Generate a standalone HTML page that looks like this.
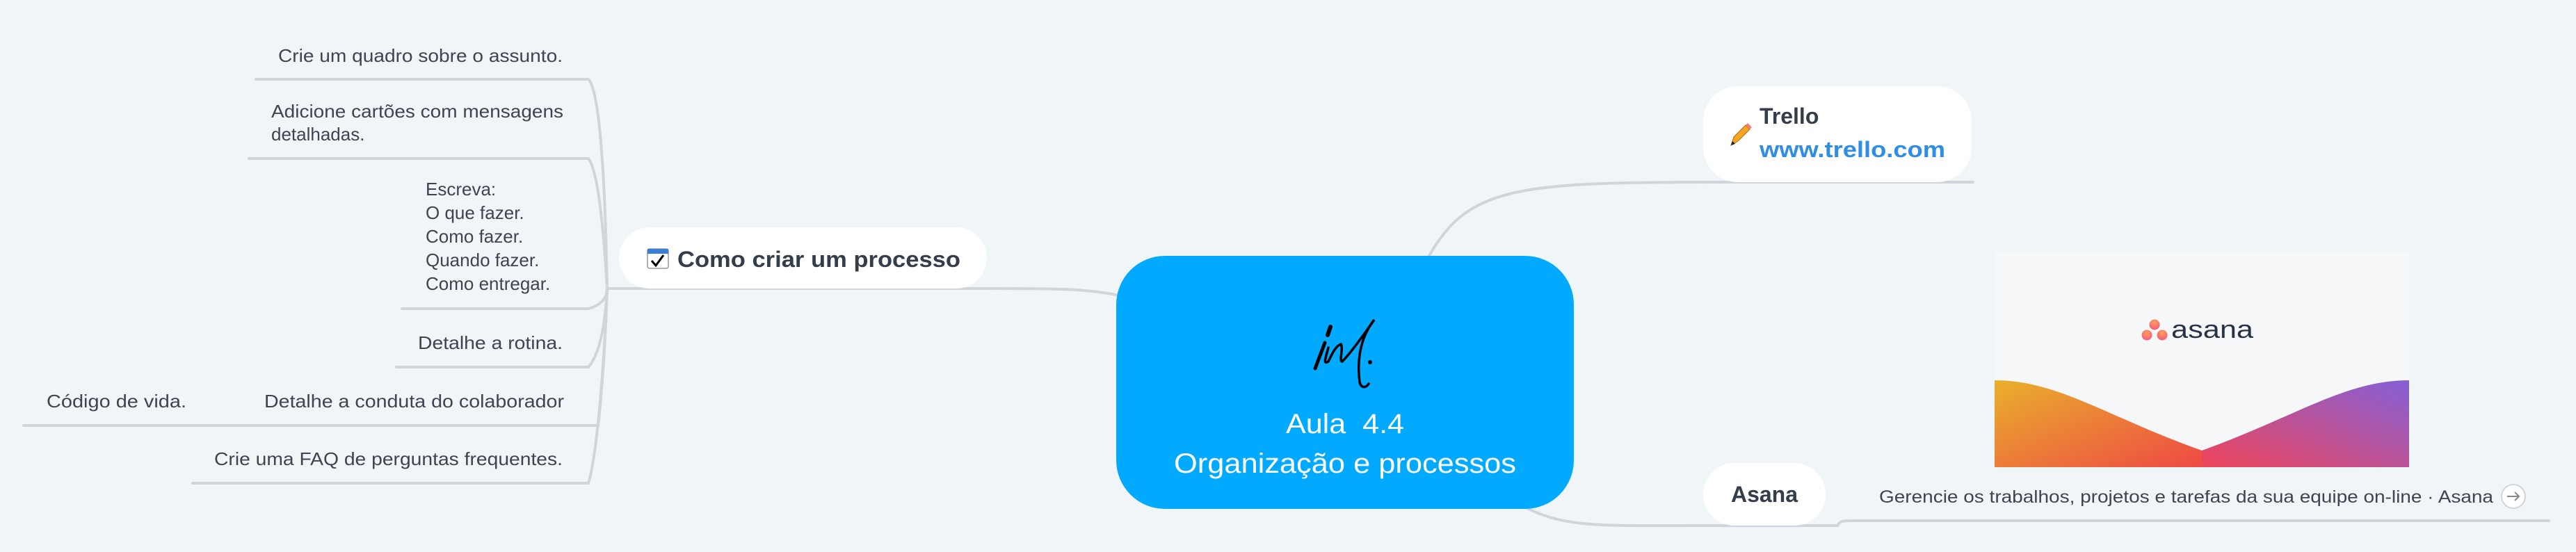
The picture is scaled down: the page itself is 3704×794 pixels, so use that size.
<!DOCTYPE html>
<html><head><meta charset="utf-8"><style>
html,body{margin:0;padding:0;background:#f0f5f8;}
svg{display:block;}
text{font-family:"Liberation Sans",sans-serif;}
</style></head><body>
<svg width="3704" height="794" viewBox="0 0 3704 794" xmlns="http://www.w3.org/2000/svg">
<defs>
<linearGradient id="gl" x1="0" y1="0" x2="1" y2="1"><stop offset="0" stop-color="#e9b02c"/><stop offset="1" stop-color="#ee4a44"/></linearGradient>
<linearGradient id="gr" x1="0" y1="1" x2="1" y2="0"><stop offset="0" stop-color="#f0455a"/><stop offset="1" stop-color="#8460d6"/></linearGradient>
<radialGradient id="dot" cx="0.5" cy="0.3" r="0.7"><stop offset="0" stop-color="#ffa05a"/><stop offset="1" stop-color="#f45a7a"/></radialGradient>
</defs>
<rect width="3704" height="794" fill="#f0f5f8"/>
<g fill="none" stroke="#cfd5da" stroke-width="4" stroke-linecap="round">
<path d="M368 114 H846 C862 130 870 250 873 415"/>
<path d="M358 228 H846 C860 245 868 330 873 415"/>
<path d="M578 444 H846 C862 440 873 430 873 415"/>
<path d="M570 528 H846 C862 510 870 470 873 415"/>
<path d="M34 612 H860 C866 560 871 480 873 415"/>
<path d="M277 695 H846 C860 650 870 500 873 415"/>
<path d="M873 415 H1420 C1520 415 1560 415 1610 425"/>
<path d="M2055 368 C2110 270 2180 262 2460 262 H2837"/>
<path d="M2190 728 C2250 760 2300 756 2460 756 H2642 C2646 749 2650 749 2660 749 H3665"/>
</g>
<rect x="1605" y="368" width="658" height="364" rx="70" fill="#02aaff"/>
<g fill="none" stroke="#000" stroke-linecap="round">
<path d="M1913 470 L1909 482" stroke-width="6"/>
<path d="M1905 493 L1891 530" stroke-width="5"/>
<path d="M1910 500 C1906 515 1902 525 1910 520 C1915 510 1920 498 1928 495 C1932 500 1925 520 1930 520 C1940 510 1955 490 1976 460 C1960 480 1950 510 1955 550 C1958 560 1965 557 1968 552" stroke-width="3.5"/>
</g>
<circle cx="1970" cy="521" r="3" fill="#000"/>
<text x="1934" y="623" font-size="40" fill="#fff" text-anchor="middle" textLength="170" lengthAdjust="spacingAndGlyphs" xml:space="preserve">Aula  4.4</text>
<text x="1934" y="680" font-size="40" fill="#fff" text-anchor="middle" textLength="492" lengthAdjust="spacingAndGlyphs">Organização e processos</text>
<rect x="890" y="327" width="529" height="88" rx="44" fill="#fff"/>
<rect x="931" y="358" width="30" height="28" rx="3" fill="#fff" stroke="#999" stroke-width="1.5"/>
<rect x="931" y="358" width="30" height="7" fill="#3a7fd5"/>
<path d="M937 375 L943 382 L954 367" fill="none" stroke="#000" stroke-width="3"/>
<text x="974" y="384" font-size="32" font-weight="bold" fill="#343e4a" textLength="407" lengthAdjust="spacingAndGlyphs">Como criar um processo</text>
<g font-size="26" fill="#3e4450" text-anchor="end">
<text x="809" y="89" textLength="409" lengthAdjust="spacingAndGlyphs">Crie um quadro sobre o assunto.</text>
<text x="810" y="169" textLength="420" lengthAdjust="spacingAndGlyphs">Adicione cartões com mensagens</text>
<text x="811" y="586" textLength="431" lengthAdjust="spacingAndGlyphs">Detalhe a conduta do colaborador</text>
<text x="809" y="669" textLength="501" lengthAdjust="spacingAndGlyphs">Crie uma FAQ de perguntas frequentes.</text>
<text x="809" y="502" textLength="208" lengthAdjust="spacingAndGlyphs">Detalhe a rotina.</text>
</g>
<g font-size="26" fill="#3e4450">
<text x="390" y="202">detalhadas.</text>
<text x="612" y="281">Escreva:</text>
<text x="612" y="315">O que fazer.</text>
<text x="612" y="349">Como fazer.</text>
<text x="612" y="383">Quando fazer.</text>
<text x="612" y="417">Como entregar.</text>
<text x="67" y="586" textLength="201" lengthAdjust="spacingAndGlyphs">Código de vida.</text>
</g>
<rect x="2449" y="124" width="386" height="138" rx="50" fill="#fff"/>
<path d="M2489 209 L2493 197 L2510 180 L2516 186 L2499 203 Z" fill="#f5a623" stroke="#b36b00" stroke-width="1"/>
<path d="M2510 180 L2513 177 L2519 183 L2516 186 Z" fill="#f08080"/>
<path d="M2489 209 L2491 203 L2495 207 Z" fill="#222"/>
<text x="2530" y="178" font-size="32" font-weight="bold" fill="#343e4a">Trello</text>
<text x="2530" y="226" font-size="32" font-weight="bold" fill="#2f8de4" textLength="267" lengthAdjust="spacingAndGlyphs">www.trello.com</text>
<rect x="2449" y="666" width="176" height="90" rx="45" fill="#fff"/>
<text x="2537" y="722" font-size="32" font-weight="bold" fill="#343e4a" text-anchor="middle">Asana</text>
<rect x="2868" y="362" width="596" height="310" fill="#f6f7f9"/>
<path d="M2868 547 C2960 547 3030 600 3166 648 L3166 672 L2868 672 Z" fill="url(#gl)"/>
<path d="M3464 547 C3372 547 3300 600 3166 648 L3166 672 L3464 672 Z" fill="url(#gr)"/>
<circle cx="3098" cy="467" r="7.5" fill="url(#dot)"/>
<circle cx="3087" cy="482" r="7.5" fill="url(#dot)"/>
<circle cx="3109" cy="482" r="7.5" fill="url(#dot)"/>
<text x="3122" y="486" font-size="36" fill="#273347" textLength="118" lengthAdjust="spacingAndGlyphs">asana</text>
<text x="2702" y="723" font-size="25" fill="#3e4450" textLength="883" lengthAdjust="spacingAndGlyphs">Gerencie os trabalhos, projetos e tarefas da sua equipe on-line · Asana</text>
<circle cx="3614" cy="714" r="17" fill="#fff" stroke="#cfd5da" stroke-width="2"/>
<path d="M3605 714 H3622 M3616 708 L3622 714 L3616 720" fill="none" stroke="#888" stroke-width="2"/>
</svg>
</body></html>
